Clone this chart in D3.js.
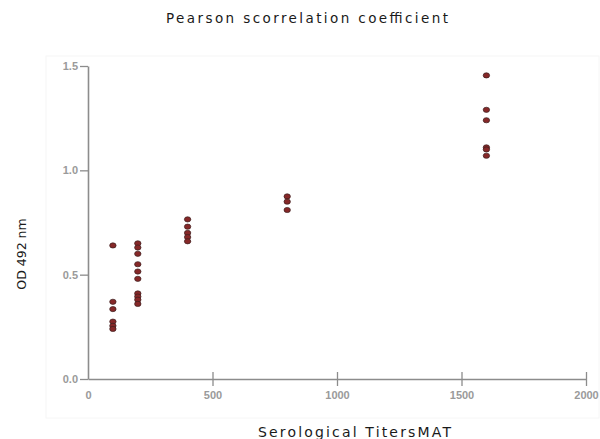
<!DOCTYPE html>
<html>
<head>
<meta charset="utf-8">
<script src="https://cdn.jsdelivr.net/npm/d3@7"></script>
<style>
  body { margin: 0; background: #fff; }
  svg { display: block; }
</style>
</head>
<body>
<svg id="chart"></svg>
<script>
// titer groups and the OD readings for each
const titers = [100, 200, 400, 800, 1600];
const od100 = [0.64, 0.37, 0.335, 0.275, 0.255, 0.24];
const od200 = [0.65, 0.63, 0.60, 0.55, 0.515, 0.48, 0.41, 0.395, 0.38, 0.36];
const od400 = [0.765, 0.73, 0.70, 0.68, 0.66];
const od800 = [0.875, 0.85, 0.81];
const od1600 = [1.455, 1.29, 1.24, 1.11, 1.10, 1.07];
const xTicks = [0, 500, 1000, 1500, 2000];
const yTicks = [0, 0.5, 1.0, 1.5];

const groups = [od100, od200, od400, od800, od1600];
const points = [];
groups.forEach((g, i) => g.forEach(v => points.push([titers[i], v])));

const W = 600, H = 439;
const svg = d3.select('#chart').attr('width', W).attr('height', H);

// faint frame behind the plot
svg.append('rect')
  .attr('x', 46).attr('y', 56).attr('width', 553).attr('height', 362)
  .attr('fill', 'none').attr('stroke', '#f6f6f6');

const x = d3.scaleLinear().domain([0, 2000]).range([88, 586]);
const y = d3.scaleLinear().domain([0, 1.5]).range([379, 66]);

const axisColor = '#8c8c8c';

// y axis
const gy = svg.append('g')
  .attr('transform', `translate(${x(0)},0)`)
  .call(d3.axisLeft(y).tickValues(yTicks).tickFormat(d3.format('.1f')).tickSize(8).tickSizeOuter(0));
// x axis
const gx = svg.append('g')
  .attr('transform', `translate(0,${y(0)})`)
  .call(d3.axisBottom(x).tickValues(xTicks).tickFormat(d3.format('d')).tickSize(7).tickSizeOuter(0));
gx.selectAll('.tick line').attr('y1', -7);
gx.selectAll('.tick').filter(d => d === 0).select('line').remove();

[gx, gy].forEach(g => {
  g.select('.domain').attr('stroke', axisColor).attr('stroke-width', 1.6);
  g.selectAll('.tick line').attr('stroke', axisColor).attr('stroke-width', 1.3);
  g.selectAll('.tick text')
    .attr('fill', '#9a9a9a')
    .style('font-family', 'Arial, "Liberation Sans", sans-serif')
    .style('font-size', '11px')
    .style('font-weight', 'bold');
});
gy.selectAll('.tick text').attr('x', -10);
gx.selectAll('.tick text').attr('y', 12);

// points
svg.append('g').selectAll('ellipse')
  .data(points).enter()
  .append('ellipse')
    .attr('cx', d => x(d[0]))
    .attr('cy', d => y(d[1]))
    .attr('rx', 3.2)
    .attr('ry', 2.6)
    .attr('fill', '#862828')
    .attr('stroke', '#3b2020')
    .attr('stroke-width', 0.7);

// titles
const font = '"DejaVu Sans", Verdana, sans-serif';
svg.append('text')
  .attr('x', 166).attr('y', 23)
  .attr('textLength', 282).attr('lengthAdjust', 'spacing')
  .style('font-family', font).style('font-size', '13.5px').attr('fill', '#1a1a1a')
  .text('Pearson scorrelation coefficient');

svg.append('text')
  .attr('x', 258).attr('y', 437)
  .attr('textLength', 193).attr('lengthAdjust', 'spacing')
  .style('font-family', font).style('font-size', '14px').attr('fill', '#1a1a1a')
  .text('Serological TitersMAT');

svg.append('text')
  .attr('transform', 'translate(26,254) rotate(-90)')
  .attr('text-anchor', 'middle')
  .style('font-family', font).style('font-size', '12.5px').attr('fill', '#1a1a1a')
  .text('OD 492 nm');
</script>
</body>
</html>
